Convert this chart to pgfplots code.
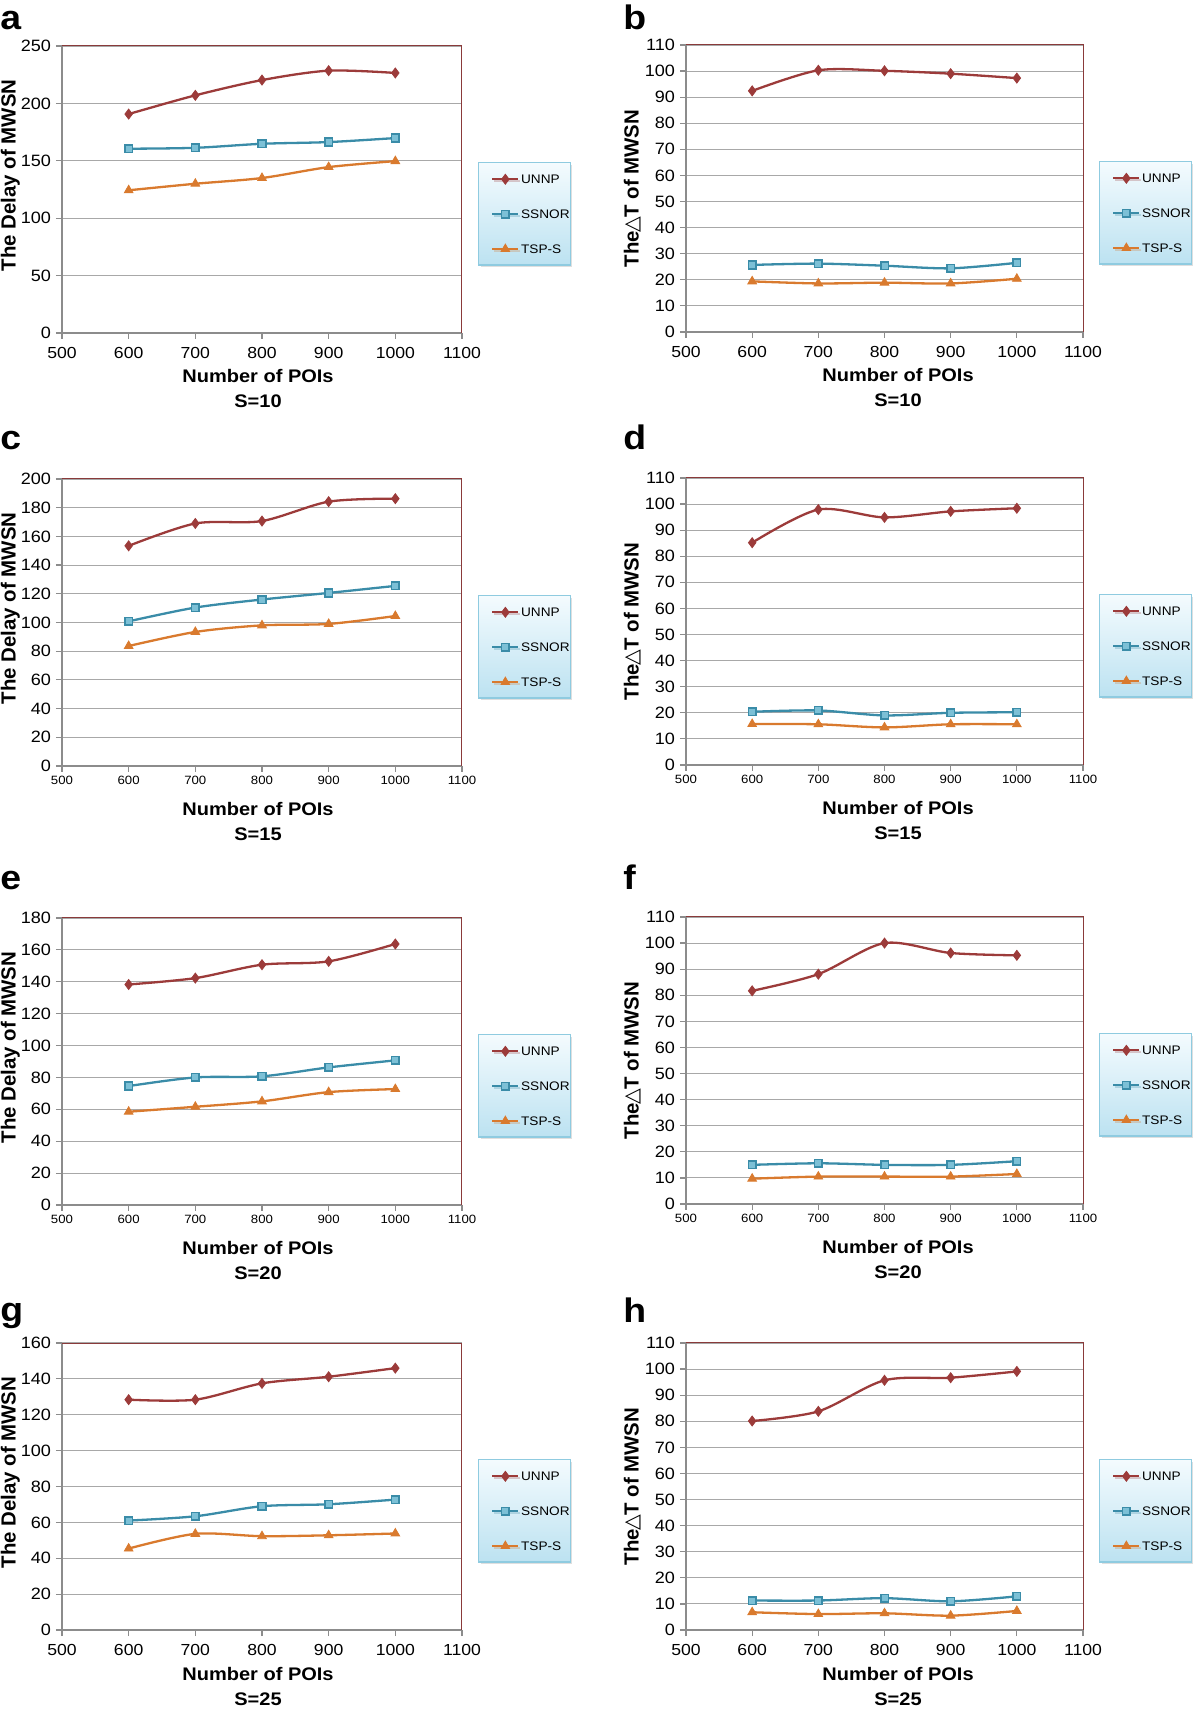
\documentclass[border=0pt]{standalone}
\usepackage{fontspec}
\setmainfont{Liberation Sans}[FakeStretch=1.1]
\newfontfamily\plainsans{Liberation Sans}
\newfontfamily\dejavu{DejaVu Sans}
\usepackage{pgfplots}
\pgfplotsset{compat=1.18}
\usetikzlibrary{shadows}
\definecolor{unnp}{HTML}{9C3B3A}
\definecolor{ssnor}{HTML}{3A8CA8}
\definecolor{ssnorfill}{HTML}{7CC0D6}
\definecolor{tsps}{HTML}{D97A2E}
\definecolor{gridgray}{HTML}{A8A8A8}
\definecolor{axisgray}{HTML}{8C8C8C}
\definecolor{borderred}{HTML}{8A3A3A}
\definecolor{legborder}{HTML}{8FCBE0}
\definecolor{legtop}{HTML}{F4FBFE}
\definecolor{legbottom}{HTML}{BCE2F1}
\newcommand{\tri}{{\dejavu\mdseries\kern-0.5pt△\kern-0.5pt}}
\pgfplotsset{
  panel/.style={
    scale only axis, width=200pt, height=143.5pt,
    xmin=500, xmax=1100, xtick={500,600,700,800,900,1000,1100},
    ymin=0,
    axis lines*=left,
    axis line style={draw=axisgray, line width=0.6pt},
    every tick/.style={draw=axisgray, line width=0.6pt},
    tick align=outside, major tick length=3pt,
    ymajorgrids, grid style={draw=gridgray, line width=0.55pt},
    /pgf/number format/assume math mode=true,
    /pgf/number format/1000 sep={},
    yticklabel style={font=\fontsize{8.2}{9}\selectfont, xshift=1pt},
    xticklabel style={font=\fontsize{8}{9}\selectfont, yshift=-0.5pt},
    xlabel style={font=\bfseries\fontsize{9.1}{12.5}\selectfont, align=center,
      at={(axis description cs:0.5,0)}, anchor=center, yshift=-28pt},
    ylabel style={font=\plainsans\bfseries\fontsize{10.2}{11}\selectfont, anchor=center},
    legend style={at={(1,0.415)}, anchor=west, xshift=8pt,
      draw=legborder, line width=0.6pt, top color=legtop, bottom color=legbottom,
      drop shadow={shadow xshift=1pt, shadow yshift=-1pt, opacity=0.25},
      font=\fontsize{6.2}{7}\selectfont, inner xsep=0.3pt, inner ysep=5.75pt,
      row sep=12.75pt, column sep=0.8pt,
      nodes={inner sep=0pt, text height=4.4pt, text depth=0pt},
      cells={anchor=west}},
    legend image code/.code={%
      \path (-6pt,0pt) (13pt,0pt);
      \draw[mark repeat=2, mark phase=2, #1] plot coordinates {(0pt,0pt) (6.5pt,0pt) (13pt,0pt)};},
    after end axis/.code={\draw[borderred, line width=0.5pt] (rel axis cs:0,1) -- (rel axis cs:1,1) -- (rel axis cs:1,0);},
  },
  smallx/.style={xticklabel style={font=\fontsize{6}{7}\selectfont, yshift=2pt}},
  leftcol/.style={width=200pt, ylabel style={at={(axis description cs:-0.129,0.549)}}, xlabel style={xshift=-2pt}},
  rightcol/.style={width=198.5pt, ylabel style={at={(axis description cs:-0.135,0.5)}}, xlabel style={xshift=6.75pt}},
  sunnp/.style={color=unnp, line width=1.15pt, smooth, mark=diamond*, mark size=2.5pt,
    mark options={solid, fill=unnp, draw=unnp, line width=0.4pt}},
  sssnor/.style={color=ssnor, line width=1.15pt, smooth, mark=square*, mark size=1.9pt,
    mark options={solid, fill=ssnorfill, draw=ssnor, line width=0.8pt}},
  stsps/.style={color=tsps, line width=1.15pt, smooth, mark=triangle*, mark size=2.5pt,
    mark options={solid, fill=tsps, draw=tsps, line width=0.4pt}},
}
\begin{document}
\begin{tikzpicture}
\path[use as bounding box] (0,0) rectangle (600pt,856pt);
\tikzset{panellabel/.style={anchor=base west, inner sep=0pt, font=\bfseries\fontsize{17}{17}\selectfont}}
\node[panellabel] at (0pt,841pt) {a};
\node[panellabel] at (311.5pt,841pt) {b};
\node[panellabel] at (0pt,631pt) {c};
\node[panellabel] at (311.5pt,631pt) {d};
\node[panellabel] at (0pt,411pt) {e};
\node[panellabel] at (311.5pt,411pt) {f};
\node[panellabel] at (0pt,195pt) {g};
\node[panellabel] at (311.5pt,194.5pt) {h};

% a
\begin{axis}[panel, leftcol, at={(31pt,689.5pt)}, anchor=south west,
  ymax=250, ytick={0,50,100,150,200,250},
  xlabel={Number of POIs\\S=10}, ylabel={The Delay of MWSN}]
\addplot[sunnp] coordinates {(600,190.7) (700,207) (800,220.3) (900,228.5) (1000,226.5)};
\addplot[sssnor] coordinates {(600,160.5) (700,161.3) (800,164.8) (900,166.3) (1000,169.8)};
\addplot[stsps] coordinates {(600,124.3) (700,130) (800,135) (900,144.5) (1000,149.7)};
\legend{UNNP,SSNOR,TSP-S}
\end{axis}

% b
\begin{axis}[panel, rightcol, at={(343pt,690pt)}, anchor=south west,
  ymax=110, ytick={0,10,...,110},
  xlabel={Number of POIs\\S=10}, ylabel={The\tri T of MWSN}]
\addplot[sunnp] coordinates {(600,92.4) (700,100.3) (800,100.1) (900,99.0) (1000,97.3)};
\addplot[sssnor] coordinates {(600,25.7) (700,26.2) (800,25.4) (900,24.4) (1000,26.5)};
\addplot[stsps] coordinates {(600,19.4) (700,18.6) (800,18.9) (900,18.6) (1000,20.4)};
\legend{UNNP,SSNOR,TSP-S}
\end{axis}

% c
\begin{axis}[panel, leftcol, smallx, at={(31pt,473pt)}, anchor=south west,
  ymax=200, ytick={0,20,...,200},
  xlabel={Number of POIs\\S=15}, ylabel={The Delay of MWSN}]
\addplot[sunnp] coordinates {(600,153.4) (700,169) (800,170.7) (900,184.2) (1000,186.3)};
\addplot[sssnor] coordinates {(600,100.8) (700,110.4) (800,116) (900,120.6) (1000,125.5)};
\addplot[stsps] coordinates {(600,83.6) (700,93.4) (800,98) (900,99) (1000,104.5)};
\legend{UNNP,SSNOR,TSP-S}
\end{axis}

% d
\begin{axis}[panel, rightcol, smallx, at={(343pt,473.5pt)}, anchor=south west,
  ymax=110, ytick={0,10,...,110},
  xlabel={Number of POIs\\S=15}, ylabel={The\tri T of MWSN}]
\addplot[sunnp] coordinates {(600,85.2) (700,97.9) (800,94.9) (900,97.2) (1000,98.4)};
\addplot[sssnor] coordinates {(600,20.4) (700,20.9) (800,19.0) (900,20.0) (1000,20.2)};
\addplot[stsps] coordinates {(600,15.7) (700,15.6) (800,14.4) (900,15.6) (1000,15.6)};
\legend{UNNP,SSNOR,TSP-S}
\end{axis}

% e
\begin{axis}[panel, leftcol, smallx, at={(31pt,253.5pt)}, anchor=south west,
  ymax=180, ytick={0,20,...,180},
  xlabel={Number of POIs\\S=20}, ylabel={The Delay of MWSN}]
\addplot[sunnp] coordinates {(600,138.3) (700,142.3) (800,150.7) (900,152.8) (1000,163.7)};
\addplot[sssnor] coordinates {(600,74.6) (700,80.0) (800,80.7) (900,86.3) (1000,90.7)};
\addplot[stsps] coordinates {(600,58.5) (700,61.6) (800,65) (900,70.8) (1000,72.7)};
\legend{UNNP,SSNOR,TSP-S}
\end{axis}

% f
\begin{axis}[panel, rightcol, smallx, at={(343pt,254pt)}, anchor=south west,
  ymax=110, ytick={0,10,...,110},
  xlabel={Number of POIs\\S=20}, ylabel={The\tri T of MWSN}]
\addplot[sunnp] coordinates {(600,81.7) (700,88.1) (800,100) (900,96.2) (1000,95.3)};
\addplot[sssnor] coordinates {(600,15.0) (700,15.6) (800,15.0) (900,15.0) (1000,16.4)};
\addplot[stsps] coordinates {(600,9.7) (700,10.5) (800,10.5) (900,10.5) (1000,11.5)};
\legend{UNNP,SSNOR,TSP-S}
\end{axis}

% g
\begin{axis}[panel, leftcol, at={(31pt,41pt)}, anchor=south west,
  ymax=160, ytick={0,20,...,160},
  xlabel={Number of POIs\\S=25}, ylabel={The Delay of MWSN}]
\addplot[sunnp] coordinates {(600,128.4) (700,128.4) (800,137.5) (900,141.2) (1000,146.0)};
\addplot[sssnor] coordinates {(600,61) (700,63.4) (800,69) (900,70.1) (1000,72.7)};
\addplot[stsps] coordinates {(600,45.4) (700,53.6) (800,52.3) (900,52.8) (1000,53.8)};
\legend{UNNP,SSNOR,TSP-S}
\end{axis}

% h
\begin{axis}[panel, rightcol, at={(343pt,41pt)}, anchor=south west,
  ymax=110, ytick={0,10,...,110},
  xlabel={Number of POIs\\S=25}, ylabel={The\tri T of MWSN}]
\addplot[sunnp] coordinates {(600,80.1) (700,83.8) (800,95.7) (900,96.7) (1000,99.1)};
\addplot[sssnor] coordinates {(600,11.3) (700,11.3) (800,12.2) (900,11.0) (1000,12.9)};
\addplot[stsps] coordinates {(600,6.8) (700,6.1) (800,6.4) (900,5.5) (1000,7.3)};
\legend{UNNP,SSNOR,TSP-S}
\end{axis}
\end{tikzpicture}
\end{document}
